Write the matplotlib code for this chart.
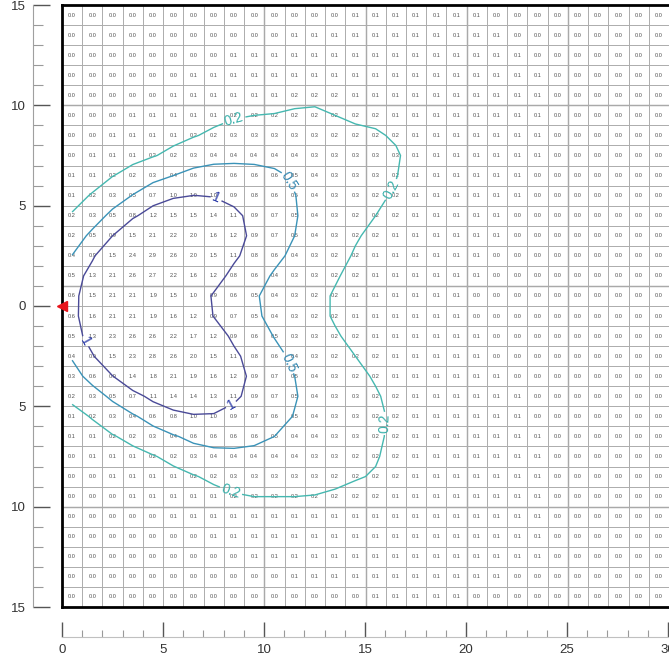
import numpy as np
import matplotlib
matplotlib.use('Agg')
import matplotlib.pyplot as plt
from matplotlib.ticker import FuncFormatter, MultipleLocator

plt.rcParams['font.family'] = ['Liberation Sans', 'DejaVu Sans']

# Cell values in tenths. First row is y 14..15, last is y -15..-14; columns x 0..30.
rows = [
    "0 0 0 0 0 0 0 0 0 0 0 0 0 0 1 1 1 1 1 1 1 0 0 0 0 0 0 0 0 0",
    "0 0 0 0 0 0 0 0 0 0 0 1 1 1 1 1 1 1 1 1 1 1 0 0 0 0 0 0 0 0",
    "0 0 0 0 0 0 0 0 1 1 1 1 1 1 1 1 1 1 1 1 1 1 1 0 0 0 0 0 0 0",
    "0 0 0 0 0 0 1 1 1 1 1 1 1 1 1 1 1 1 1 1 1 1 1 1 0 0 0 0 0 0",
    "0 0 0 0 0 1 1 1 1 1 1 2 2 2 1 1 1 1 1 1 1 1 1 1 0 0 0 0 0 0",
    "0 0 0 1 1 1 1 1 2 2 2 2 2 2 2 2 1 1 1 1 1 1 1 1 0 0 0 0 0 0",
    "0 0 1 1 1 1 2 2 3 3 3 3 3 2 2 2 2 1 1 1 1 1 1 1 0 0 0 0 0 0",
    "0 1 1 1 2 2 3 4 4 4 4 4 3 3 3 3 3 1 1 1 1 1 1 1 0 0 0 0 0 0",
    "1 1 2 2 3 4 6 6 6 6 6 5 4 3 3 3 2 1 1 1 1 1 1 0 0 0 0 0 0 0",
    "1 2 3 5 7 10 10 10 9 8 6 5 4 3 3 2 2 1 1 1 1 1 1 0 0 0 0 0 0 0",
    "2 3 5 8 12 15 15 14 11 9 7 5 4 3 2 2 2 1 1 1 1 1 0 0 0 0 0 0 0 0",
    "2 5 9 15 21 22 20 16 12 9 7 5 4 3 2 2 1 1 1 1 1 1 0 0 0 0 0 0 0 0",
    "4 9 15 24 29 26 20 15 11 8 6 4 3 2 2 1 1 1 1 1 1 0 0 0 0 0 0 0 0 0",
    "5 13 21 26 27 22 16 12 8 6 4 3 3 2 2 1 1 1 1 1 1 0 0 0 0 0 0 0 0 0",
    "6 15 21 21 19 15 10 9 6 5 4 3 2 2 1 1 1 1 1 1 0 0 0 0 0 0 0 0 0 0",
    "6 16 21 21 19 16 12 9 7 5 4 3 2 2 1 1 1 1 1 1 0 0 0 0 0 0 0 0 0 0",
    "5 13 23 26 26 22 17 12 9 6 5 3 3 2 2 1 1 1 1 1 1 0 0 0 0 0 0 0 0 0",
    "4 9 15 23 28 26 20 15 11 8 6 4 3 2 2 2 1 1 1 1 1 0 0 0 0 0 0 0 0 0",
    "3 6 9 14 18 21 19 16 12 9 7 5 4 3 2 2 1 1 1 1 1 1 0 0 0 0 0 0 0 0",
    "2 3 5 7 11 14 14 13 11 9 7 5 4 3 3 2 2 1 1 1 1 1 1 0 0 0 0 0 0 0",
    "1 2 3 4 6 8 10 10 9 7 6 5 4 3 3 2 2 1 1 1 1 1 1 0 0 0 0 0 0 0",
    "1 1 2 2 3 4 6 6 6 6 5 4 4 3 3 2 2 1 1 1 1 1 1 1 0 0 0 0 0 0",
    "0 1 1 1 2 2 3 4 4 4 4 4 3 3 2 2 2 1 1 1 1 1 1 1 0 0 0 0 0 0",
    "0 0 1 1 1 1 2 2 3 3 3 3 3 2 2 2 2 1 1 1 1 1 1 1 0 0 0 0 0 0",
    "0 0 0 1 1 1 1 1 2 2 2 2 2 2 2 2 1 1 1 1 1 1 1 1 0 0 0 0 0 0",
    "0 0 0 0 0 1 1 1 1 1 1 1 1 1 1 1 1 1 1 1 1 1 1 1 0 0 0 0 0 0",
    "0 0 0 0 0 0 0 1 1 1 1 1 1 1 1 1 1 1 1 1 1 1 1 1 0 0 0 0 0 0",
    "0 0 0 0 0 0 0 0 0 1 1 1 1 1 1 1 1 1 1 1 1 1 1 1 0 0 0 0 0 0",
    "0 0 0 0 0 0 0 0 0 0 0 1 1 1 1 1 1 1 1 1 1 1 0 0 0 0 0 0 0 0",
    "0 0 0 0 0 0 0 0 0 0 0 0 0 0 0 1 1 1 1 1 0 0 0 0 0 0 0 0 0 0",
]
grid = np.array([[int(v) for v in r.split()] for r in rows]) / 10.0

levels = [0.2, 0.5, 1.0]
level_names = {0.2: '0.2', 0.5: '0.5', 1.0: '1'}
level_colors = ['#45b8b0', '#3a93b8', '#4a4a98']
label_colors = ['#38b0aa', '#3488b2', '#2a3aa8']
source = [(0, 0)]

n_rows, n_cols = grid.shape
x_centers = np.arange(n_cols) + 0.5
y_centers = 15 - np.arange(n_rows) - 0.5

# the printed values are rounded to 0.1, so soften them a little before contouring
k = np.array([1.0, 2.0, 1.0])
padded = np.pad(grid, 1, mode='edge')
tmp = (padded[:, :-2] * k[0] + padded[:, 1:-1] * k[1] + padded[:, 2:] * k[2]) / 4
smooth = (tmp[:-2] * k[0] + tmp[1:-1] * k[1] + tmp[2:] * k[2]) / 4

W, H = 669, 659
fig = plt.figure(figsize=(W / 100, H / 100), dpi=100)

# main grid panel
ax = fig.add_axes([62 / W, 52 / H, 607 / W, 602 / H])
ax.set_xlim(0, 30)
ax.set_ylim(-15, 15)
ax.set_xticks(np.arange(0, 31))
ax.set_yticks(np.arange(-15, 16))
ax.tick_params(length=0, labelbottom=False, labelleft=False)
ax.grid(True, color='#acacac', lw=0.7, zorder=0)
for xv in [10, 15, 20, 25]:
    ax.axvline(xv, color='#606060', lw=0.9, zorder=1)
for yv in [10, 1, -10]:
    ax.axhline(yv, color='#606060', lw=0.9, zorder=1)
for side in ['left', 'top', 'bottom']:
    ax.spines[side].set_linewidth(2.0)
    ax.spines[side].set_color('black')
ax.spines['right'].set_visible(False)

for r in range(n_rows):
    for c in range(n_cols):
        ax.text(x_centers[c], y_centers[r], f'{grid[r, c]:.1f}', ha='center',
                va='center', fontsize=4.1, color='#505050', zorder=2)

cs = ax.contour(x_centers, y_centers, smooth, levels=levels, colors=level_colors,
                linewidths=1.0, zorder=3)
label_spots = [(8.5, 9.3), (15.3, 6.3), (15.3, -5.8), (8.4, -9.1),
               (10.8, 6.0), (10.8, -3.0), (7.4, 4.9), (1.1, -1.8), (8.2, -4.6)]
ax.clabel(cs, fmt=level_names, fontsize=10, inline=True, inline_spacing=2,
          colors=label_colors, manual=label_spots)

ax.plot([p[0] for p in source], [p[1] for p in source], marker='<', color='#e8141c',
        ms=7, ls='none', clip_on=False, zorder=5)

# detached y axis on the left
ax_y = fig.add_axes([33 / W, 52 / H, 25 / W, 602 / H])
ax_y.set_ylim(-15, 15)
ax_y.patch.set_visible(False)
for side in ['top', 'right', 'bottom']:
    ax_y.spines[side].set_visible(False)
ax_y.spines['left'].set_color('#a0a0a0')
ax_y.set_xticks([])
ax_y.yaxis.set_major_locator(MultipleLocator(5))
ax_y.yaxis.set_minor_locator(MultipleLocator(1))
ax_y.yaxis.set_major_formatter(FuncFormatter(lambda v, p: f'{abs(v):.0f}'))
ax_y.tick_params(axis='y', which='major', direction='in', length=12, width=1,
                 color='#555555', labelsize=9.5, labelcolor='#333333', pad=5)
ax_y.tick_params(axis='y', which='minor', direction='in', length=7, width=0.8,
                 color='#9a9a9a')

# detached x axis below
ax_x = fig.add_axes([62 / W, 22 / H, 606 / W, 20 / H])
ax_x.set_xlim(0, 30)
ax_x.patch.set_visible(False)
for side in ['top', 'right', 'left']:
    ax_x.spines[side].set_visible(False)
ax_x.spines['bottom'].set_color('#c0c0c0')
ax_x.set_yticks([])
ax_x.xaxis.set_major_locator(MultipleLocator(5))
ax_x.xaxis.set_minor_locator(MultipleLocator(1))
ax_x.tick_params(axis='x', which='major', direction='in', length=11, width=1,
                 color='#555555', labelsize=9.5, labelcolor='#333333', pad=5)
ax_x.tick_params(axis='x', which='minor', direction='in', length=5, width=0.8,
                 color='#9a9a9a')

fig.savefig('out.png', dpi=100)
